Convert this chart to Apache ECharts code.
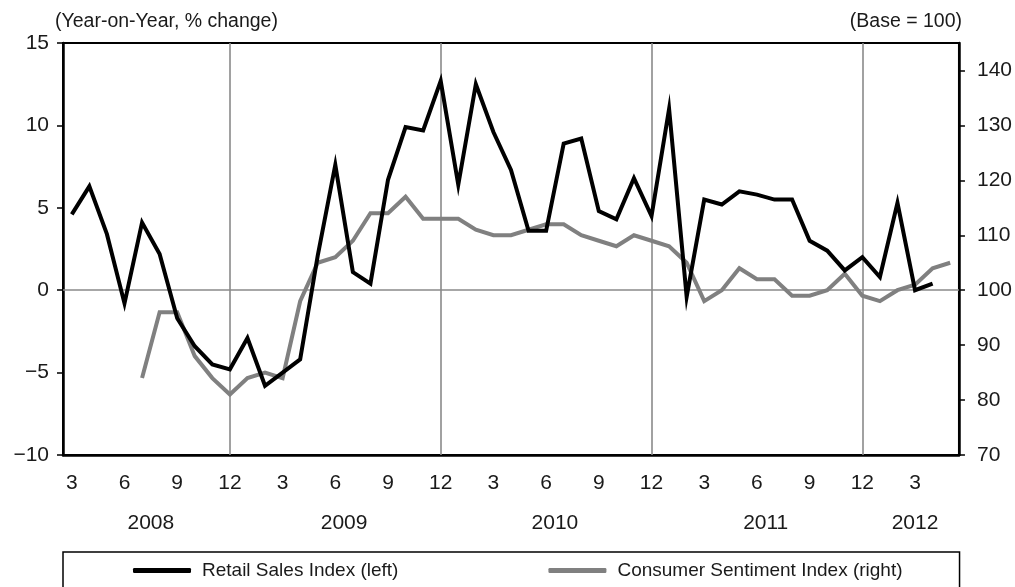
<!DOCTYPE html>
<html>
<head>
<meta charset="utf-8">
<script src="https://cdn.jsdelivr.net/npm/echarts@6/dist/echarts.min.js"></script>
<style>
  html, body { margin: 0; padding: 0; background: #fff; }
  #main { width: 1015px; height: 587px; }
</style>
</head>
<body>
<div id="main"></div>
<script>
// 월별 카테고리 (2008.3 ~ 2012.5)
var months = [
    '2008-03','2008-04','2008-05','2008-06','2008-07','2008-08','2008-09','2008-10','2008-11','2008-12',
    '2009-01','2009-02','2009-03','2009-04','2009-05','2009-06','2009-07','2009-08','2009-09','2009-10','2009-11','2009-12',
    '2010-01','2010-02','2010-03','2010-04','2010-05','2010-06','2010-07','2010-08','2010-09','2010-10','2010-11','2010-12',
    '2011-01','2011-02','2011-03','2011-04','2011-05','2011-06','2011-07','2011-08','2011-09','2011-10','2011-11','2011-12',
    '2012-01','2012-02','2012-03','2012-04','2012-05'
];
var years = ['2008', '2009', '2010', '2011', '2012'];

// Retail Sales Index (left, %)
var retailSales = [
    4.6, 6.3, 3.4, -0.8, 4.1, 2.2, -1.7, -3.4, -4.5, -4.8,
    -2.9, -5.8, -5.0, -4.2, 2.1, 7.6, 1.1, 0.4, 6.7, 9.9, 9.7, 12.7,
    6.4, 12.5, 9.6, 7.3, 3.6, 3.6, 8.9, 9.2, 4.8, 4.3, 6.8, 4.5,
    11.0, -0.4, 5.5, 5.2, 6.0, 5.8, 5.5, 5.5, 3.0, 2.4, 1.2, 2.0,
    0.8, 5.3, 0.0, 0.4, null
];
// Consumer Sentiment Index (right, base=100)
var consumerSentiment = [
    null, null, null, null, 84, 96, 96, 88, 84, 81,
    84, 85, 84, 98, 105, 106, 109, 114, 114, 117, 113, 113,
    113, 111, 110, 110, 111, 112, 112, 110, 109, 108, 110, 109,
    108, 105, 98, 100, 104, 102, 102, 99, 99, 100, 103, 99,
    98, 100, 101, 104, 105
];
var leftTicks = [-10, -5, 0, 5, 10, 15];
var rightTicks = [70, 80, 90, 100, 110, 120, 130, 140];

var font = 'Liberation Sans';
var textColor = '#1a1a1a';
var grayLine = '#8a8a8a';

// 연도 라벨 위치 = 해당 연도 카테고리 인덱스의 평균
var yearCenter = {};
years.forEach(function (y) {
    var idx = [];
    months.forEach(function (m, i) { if (m.indexOf(y) === 0) idx.push(i); });
    yearCenter[y] = (idx[0] + idx[idx.length - 1]) / 2;
});
var yearPos = years.map(function (y) { return yearCenter[y]; });

var decLines = months.filter(function (m) { return m.slice(5) === '12'; })
    .map(function (m) { return { xAxis: m }; });

var myChart = echarts.init(document.getElementById('main'));
var option = {
    animation: false,
    backgroundColor: '#fff',
    title: [
        {
            text: '(Year-on-Year, % change)',
            left: 55, top: 12, padding: 0,
            textStyle: { fontFamily: font, fontSize: 19.5, fontWeight: 'normal', color: textColor }
        },
        {
            text: '(Base = 100)',
            right: 53, top: 12, padding: 0,
            textStyle: { fontFamily: font, fontSize: 19.5, fontWeight: 'normal', color: textColor }
        }
    ],
    grid: {
        left: 63, right: 56, top: 43, bottom: 132,
        show: true, borderColor: '#000', borderWidth: 2, backgroundColor: 'transparent'
    },
    legend: {
        left: 63, top: 552,
        padding: [9, 57, 40, 70],
        itemGap: 150,
        itemWidth: 58, itemHeight: 5,
        icon: 'roundRect',
        borderColor: '#000', borderWidth: 1.5, borderRadius: 0,
        textStyle: { fontFamily: font, fontSize: 19, color: textColor, padding: [0, 0, 0, 6] },
        data: ['Retail Sales Index (left)', 'Consumer Sentiment Index (right)']
    },
    xAxis: [
        {
            type: 'category',
            data: months,
            boundaryGap: true,
            axisLine: { onZero: false, lineStyle: { color: '#000', width: 2.5 } },
            axisTick: { show: false },
            axisLabel: {
                interval: function (i, v) { return parseInt(v.slice(5), 10) % 3 === 0; },
                formatter: function (v) { return String(parseInt(v.slice(5), 10)); },
                margin: 18,
                fontFamily: font, fontSize: 21, color: textColor
            },
            splitLine: { show: false }
        },
        {
            type: 'value',
            position: 'bottom',
            min: -0.5, max: months.length - 0.5,
            axisLine: { show: false, onZero: false },
            axisTick: { show: false },
            splitLine: { show: false },
            axisLabel: {
                customValues: yearPos,
                formatter: function (v) {
                    for (var k = 0; k < years.length; k++) {
                        if (Math.abs(yearPos[k] - v) < 0.01) return years[k];
                    }
                    return '';
                },
                margin: 58,
                fontFamily: font, fontSize: 21, color: textColor
            }
        }
    ],
    yAxis: [
        {
            type: 'value',
            min: -10, max: 15, interval: 5,
            axisLine: { show: true, onZero: false, lineStyle: { color: '#000', width: 2.5 } },
            axisTick: { show: true, inside: false, length: 6, lineStyle: { color: '#000', width: 1.5 } },
            axisLabel: {
                customValues: leftTicks,
                formatter: function (v) { return v < 0 ? '\u2212' + Math.abs(v) : String(v); },
                margin: 14, fontFamily: font, fontSize: 21, color: textColor
            },
            splitLine: { show: false }
        },
        {
            type: 'value',
            position: 'right',
            min: 70, max: 145, interval: 10,
            axisLine: { show: true, onZero: false, lineStyle: { color: '#000', width: 2.5 } },
            axisTick: { show: true, inside: false, length: 6, customValues: rightTicks, lineStyle: { color: '#000', width: 1.5 } },
            axisLabel: { customValues: rightTicks, margin: 18, fontFamily: font, fontSize: 21, color: textColor },
            splitLine: { show: false }
        }
    ],
    series: [
        {
            name: 'Consumer Sentiment Index (right)',
            type: 'line',
            yAxisIndex: 1,
            data: consumerSentiment,
            showSymbol: false,
            symbol: 'none',
            lineStyle: { color: '#808080', width: 4, join: 'miter' },
            itemStyle: { color: '#808080' },
            markLine: {
                silent: true, z: 1,
                symbol: ['none', 'none'],
                label: { show: false },
                lineStyle: { color: grayLine, type: 'solid', width: 1.6 },
                data: decLines.concat([{ yAxis: 100 }])
            }
        },
        {
            name: 'Retail Sales Index (left)',
            type: 'line',
            yAxisIndex: 0,
            data: retailSales,
            showSymbol: false,
            symbol: 'none',
            lineStyle: { color: '#000', width: 4, join: 'miter' },
            itemStyle: { color: '#000' }
        }
    ]
};
myChart.setOption(option);
</script>
</body>
</html>
